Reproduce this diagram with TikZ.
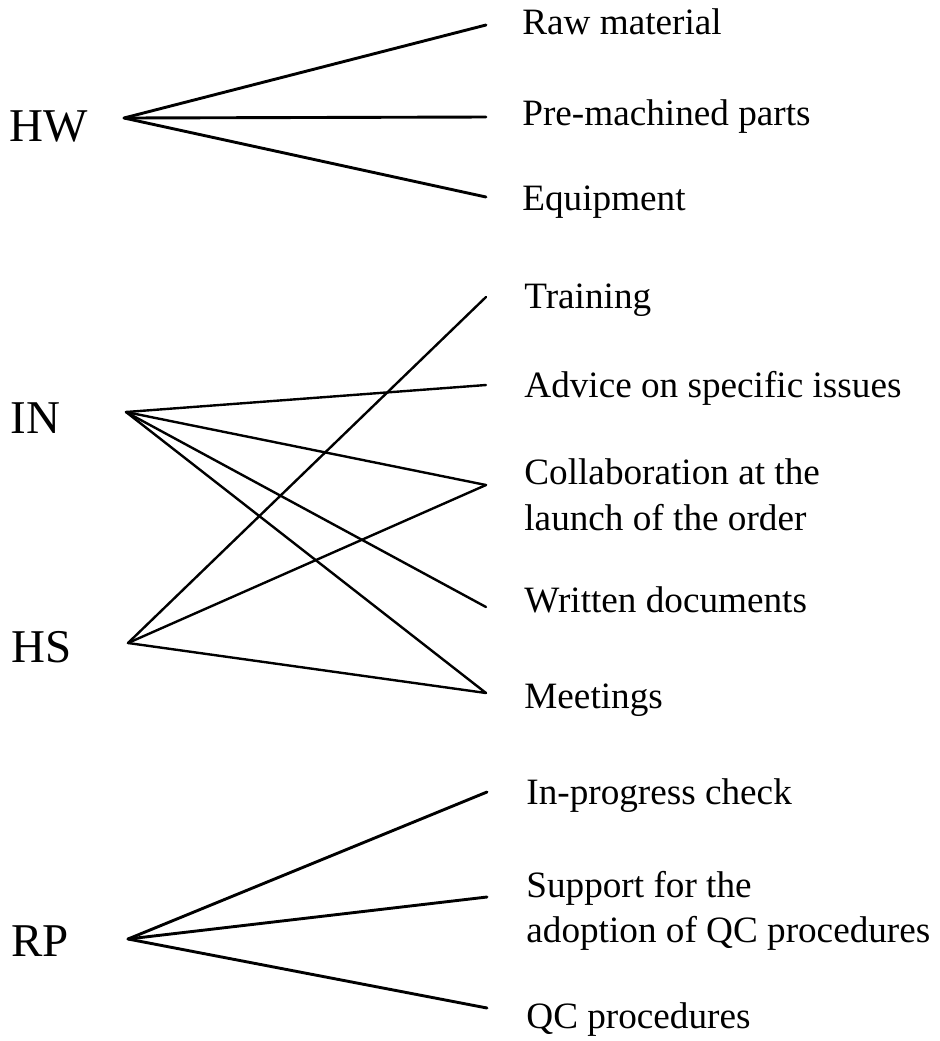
\documentclass[tikz,border=0pt]{standalone}
\usepackage{fontspec}
\setmainfont{Liberation Serif}
\begin{document}
\begin{tikzpicture}[x=0.5pt,y=-0.5pt,
  src/.style={inner sep=0pt,anchor=base west,font=\fontsize{23.5pt}{28pt}\selectfont},
  item/.style={inner sep=0pt,anchor=base west,font=\fontsize{18.6pt}{23pt}\selectfont},
  link/.style={line width=1.2pt,line cap=round,line join=round},
  thicklink/.style={link,line width=1.45pt}]
\useasboundingbox (0,0) rectangle (940,1041);
% source labels
\node[src] (HWl) at (9,141) {HW};
\node[src] (INl) at (10,433) {IN};
\node[src] (HSl) at (11,662) {HS};
\node[src] (RPl) at (11,956) {RP};
% apex points
\coordinate (hw) at (124,118);
\coordinate (in) at (126,412);
\coordinate (hs) at (128,643);
\coordinate (rp) at (128,939);
% item labels
\node[item] (raw) at (522,34) {Raw material};
\node[item] (pre) at (522,125) {Pre-machined parts};
\node[item] (equ) at (522,210) {Equipment};
\node[item] (tra) at (524,308) {Training};
\node[item] (adv) at (524,397) {Advice on specific issues};
\node[item] (colA) at (524,484) {Collaboration at the};
\node[item] (colB) at (524,530) {launch of the order};
\node[item] (wri) at (524,612) {Written documents};
\node[item] (mee) at (524,708) {Meetings};
\node[item] (inp) at (526,804) {In-progress check};
\node[item] (supA) at (526,897) {Support for the};
\node[item] (supB) at (526,942) {adoption of QC procedures};
\node[item] (qcp) at (526,1028) {QC procedures};
% line end points
\coordinate (eraw) at (486,25);
\coordinate (epre) at (486,117);
\coordinate (eequ) at (486,197);
\coordinate (etra) at (486,297);
\coordinate (eadv) at (486,385);
\coordinate (ecol) at (486,485);
\coordinate (ewri) at (486,607);
\coordinate (emee) at (486,693);
\coordinate (einp) at (487,792);
\coordinate (esup) at (487,897);
\coordinate (eqcp) at (487,1008);
% connectors
\draw[thicklink] (eraw) -- (hw) -- (eequ);
\draw[thicklink] (hw) -- (epre);
\draw[link] (in) -- (eadv);
\draw[link] (in) -- (ecol);
\draw[link] (in) -- (ewri);
\draw[link] (in) -- (emee);
\draw[link] (etra) -- (hs) -- (emee);
\draw[link] (hs) -- (ecol);
\draw[thicklink] (einp) -- (rp) -- (eqcp);
\draw[thicklink] (rp) -- (esup);
\end{tikzpicture}
\end{document}
